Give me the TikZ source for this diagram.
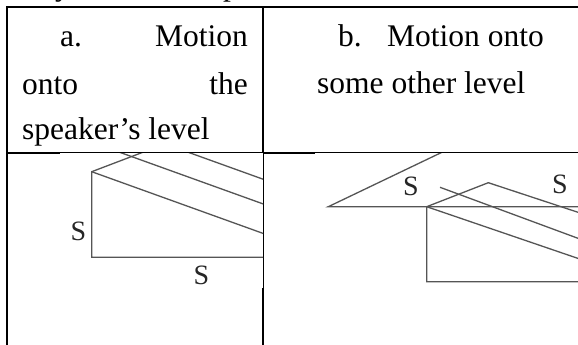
\documentclass[tikz,border=0pt]{standalone}
\usepackage{fontspec}
\setmainfont{Liberation Serif}
\definecolor{dgray}{HTML}{555555}
\begin{document}
\begin{tikzpicture}[x=1pt,y=-1pt,
  tline/.style={line width=2pt, black},
  dline/.style={line width=1.3pt, dgray, line cap=butt, line join=miter},
  txt/.style={inner sep=0pt, font=\fontsize{31.5}{38}\selectfont},
  slab/.style={inner sep=0pt, font=\fontsize{28}{32}\selectfont, text=black!85}]
\useasboundingbox (0,0) rectangle (578,345);
% cropped line of text above the table
\node[txt, anchor=base west] (ty) at (55,-4) {y};
\node[txt, anchor=base west] (tp) at (223,-4) {p};
% table rules
\draw[tline] (7,345) -- (7,7) -- (578,7);
\draw[tline] (263,7) -- (263,345);
\draw[tline] (7,153) -- (578,153);
% header texts
\node[txt, anchor=base west] (a1) at (60,47) {a.};
\node[txt, anchor=base east] (a2) at (248,47) {Motion};
\node[txt, anchor=base west] (a3) at (22,94) {onto};
\node[txt, anchor=base east] (a4) at (248,94) {the};
\node[txt, anchor=base west] (a5) at (22,139) {speaker’s level};
\node[txt, anchor=base west] (b1) at (338,47) {b.};
\node[txt, anchor=base west] (b2) at (387,47) {Motion onto};
\node[txt, anchor=base west] (b3) at (317,93) {some other level};
% pasted figure backgrounds
\fill[white] (60,153) rectangle (263,288);
\fill[white] (315,153) rectangle (578,345);
% panel a
\begin{scope}
\clip (60,153) rectangle (263,288);
\coordinate (A) at (91.7,171.7);
\coordinate (B) at (91.7,257.3);
\coordinate (Br) at (270,257.3);
\coordinate (Au) at (151.7,148.9);
\coordinate (A1) at (280,239.5);
\coordinate (L2s) at (110,148.8);
\coordinate (L2e) at (280,210);
\coordinate (L3s) at (180,149.3);
\coordinate (L3e) at (280,185.3);
\draw[dline] (Br) -- (B) -- (A) -- (Au);
\draw[dline] (A) -- (A1);
\draw[dline] (L2s) -- (L2e);
\draw[dline] (L3s) -- (L3e);
\node[slab] (sa1) at (78.5,231) {S};
\node[slab] (sa2) at (201.5,275) {S};
\end{scope}
% panel b
\begin{scope}
\clip (315,153) rectangle (578,345);
\coordinate (L) at (328.3,206.7);
\coordinate (Lu) at (445,150.8);
\coordinate (Hr) at (585,206.7);
\coordinate (V) at (426.7,206.7);
\coordinate (Vb) at (426.7,281.7);
\coordinate (Vbr) at (585,281.7);
\coordinate (P) at (488.3,182.7);
\coordinate (Pr) at (585,214.6);
\coordinate (Vr) at (585,260.8);
\coordinate (Ms) at (440,187.3);
\coordinate (Me) at (585,240.9);
\draw[dline] (Lu) -- (L) -- (Hr);
\draw[dline] (Vbr) -- (Vb) -- (V) -- (P) -- (Pr);
\draw[dline] (V) -- (Vr);
\draw[dline] (Ms) -- (Me);
\node[slab] (sb1) at (411,186) {S};
\node[slab] (sb2) at (560,184) {S};
\end{scope}
\end{tikzpicture}
\end{document}
